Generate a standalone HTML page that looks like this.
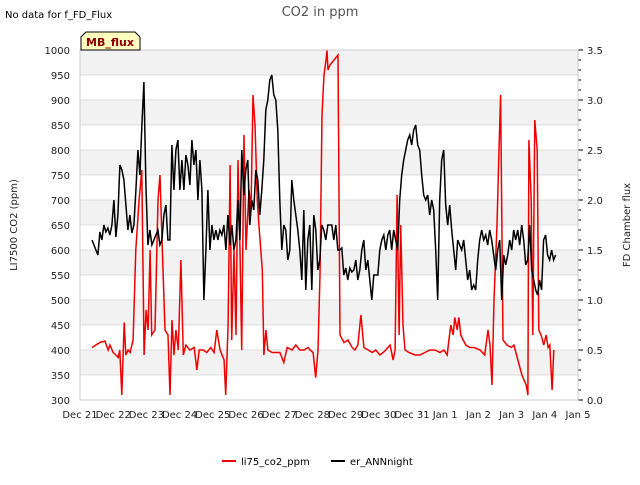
<!DOCTYPE html>
<html><head><meta charset="utf-8"><style>
body{margin:0;background:#fff;font-family:"Liberation Sans","DejaVu Sans",sans-serif}
svg text{font-family:"DejaVu Sans","Liberation Sans",sans-serif}
</style></head><body>
<svg id="c" width="640" height="480" xmlns="http://www.w3.org/2000/svg">
<text x="5" y="18" font-size="10" fill="#000">No data for f_FD_Flux</text>
<text x="320" y="16" font-size="13" fill="#555" text-anchor="middle">CO2 in ppm</text>
<g id="bands"></g>
<g id="axes"></g>
<path id="red" fill="none" stroke="#e00" stroke-width="1.5"/>
<path id="blk" fill="none" stroke="#000" stroke-width="1.5"/>
<g>
<path d="M81,50 L81,37 L86,32 L135,32 L140,37 L140,50 Z" fill="#ffffc0" stroke="#000" stroke-width="1"/>
<text x="110" y="46" font-size="11" font-weight="bold" fill="#8b0000" text-anchor="middle">MB_flux</text></g>
<text transform="translate(17,225) rotate(-90)" font-size="10" text-anchor="middle" fill="#222">LI7500 CO2 (ppm)</text>
<text transform="translate(630,225) rotate(-90)" font-size="10" text-anchor="middle" fill="#222">FD Chamber flux</text>
<g>
<line x1="222" y1="461" x2="236" y2="461" stroke="#e00" stroke-width="2"/>
<text x="241" y="465" font-size="10">li75_co2_ppm</text>
<line x1="331" y1="461" x2="345" y2="461" stroke="#000" stroke-width="2"/>
<text x="350" y="465" font-size="10">er_ANNnight</text>
</g>
</svg>
<script>
const xTickLabels=["Dec 21","Dec 22","Dec 23","Dec 24","Dec 25","Dec 26","Dec 27","Dec 28","Dec 29","Dec 30","Dec 31","Jan 1","Jan 2","Jan 3","Jan 4","Jan 5"];
const leftTicks=[300,350,400,450,500,550,600,650,700,750,800,850,900,950,1000];
const rightTicks=[0.0,0.5,1.0,1.5,2.0,2.5,3.0,3.5];
const redDays=[0.36,0.60,0.75,0.85,0.90,1.00,1.08,1.15,1.20,1.26,1.33,1.38,1.45,1.51,1.60,1.68,1.78,1.86,1.93,1.99,2.05,2.11,2.16,2.26,2.35,2.41,2.47,2.56,2.65,2.71,2.77,2.83,2.89,2.96,3.04,3.11,3.19,3.31,3.44,3.52,3.59,3.71,3.82,3.94,4.04,4.12,4.22,4.34,4.39,4.46,4.52,4.57,4.64,4.70,4.76,4.82,4.87,4.94,5.00,5.09,5.15,5.21,5.27,5.34,5.39,5.49,5.54,5.60,5.66,5.79,5.90,6.02,6.14,6.24,6.39,6.50,6.62,6.75,6.87,6.93,7.02,7.10,7.17,7.23,7.29,7.35,7.41,7.44,7.47,7.53,7.65,7.77,7.83,7.95,8.07,8.20,8.28,8.37,8.46,8.55,8.68,8.80,8.91,9.03,9.13,9.21,9.34,9.43,9.49,9.55,9.61,9.66,9.73,9.79,9.91,10.09,10.24,10.39,10.54,10.69,10.84,10.96,11.06,11.11,11.17,11.24,11.29,11.36,11.41,11.47,11.54,11.62,11.74,11.87,12.05,12.19,12.29,12.35,12.41,12.47,12.56,12.62,12.67,12.74,12.86,12.99,13.07,13.19,13.31,13.44,13.49,13.52,13.59,13.64,13.70,13.77,13.82,13.89,13.97,14.04,14.10,14.15,14.22,14.27];
const redPpm=[405,415,418,400,410,395,390,385,400,310,455,390,400,395,420,600,700,760,390,480,440,600,430,440,700,750,620,440,430,310,460,390,440,400,580,390,410,400,405,360,400,400,395,405,395,440,400,380,310,450,770,420,600,430,780,600,400,830,600,720,680,910,850,700,650,560,390,440,400,395,395,395,375,405,400,410,400,400,405,400,395,345,400,550,870,950,980,999,960,970,980,990,430,415,420,405,400,410,470,405,400,395,400,390,395,400,410,380,400,710,430,650,450,400,395,390,390,395,400,400,395,400,390,420,450,430,465,440,465,430,420,410,405,405,400,390,440,410,330,500,650,800,910,420,410,405,410,380,350,330,310,820,700,430,860,800,440,430,410,430,405,410,320,400];
const blkStartDay=0.36, blkStepDay=0.0602;
const blkFlux=[1.6,1.55,1.5,1.45,1.68,1.6,1.75,1.68,1.72,1.65,1.75,2.0,1.63,1.85,2.35,2.3,2.2,1.95,1.7,1.85,1.67,1.75,2.1,2.5,2.25,2.75,3.18,2.15,1.55,1.7,1.55,1.6,1.65,1.7,1.55,1.6,1.85,1.95,1.6,1.6,2.55,2.1,2.5,2.6,2.1,2.4,2.1,2.45,2.35,2.15,2.6,2.35,2.5,2.0,2.4,2.1,1.0,1.5,2.1,1.5,1.75,1.6,1.7,1.6,1.7,1.65,1.75,1.5,1.85,1.55,1.75,1.5,1.6,2.0,1.6,2.5,2.05,2.3,2.4,1.75,2.0,1.9,2.3,2.2,1.85,2.1,2.4,2.9,3.0,3.2,3.25,3.05,3.0,2.7,2.0,1.5,1.75,1.7,1.4,1.5,2.2,2.0,1.85,1.7,1.5,1.2,1.9,1.1,1.6,1.75,1.1,1.85,1.7,1.3,1.4,1.75,1.7,1.6,1.75,1.75,1.75,1.6,1.75,1.5,1.5,1.52,1.25,1.32,1.2,1.32,1.28,1.3,1.4,1.2,1.3,1.5,1.6,1.3,1.4,1.2,1.0,1.25,1.25,1.25,1.5,1.6,1.65,1.5,1.65,1.7,1.5,1.7,1.6,1.5,2.0,2.25,2.4,2.5,2.6,2.65,2.55,2.7,2.75,2.55,2.5,2.25,2.05,2.0,2.05,1.85,2.0,1.9,1.5,1.0,2.0,2.4,2.5,1.95,1.75,1.95,1.7,1.5,1.3,1.6,1.55,1.5,1.6,1.4,1.2,1.3,1.1,1.15,1.1,1.4,1.6,1.7,1.6,1.65,1.55,1.7,1.6,1.45,1.3,1.5,1.6,1.0,1.45,1.35,1.45,1.6,1.5,1.7,1.6,1.7,1.55,1.75,1.6,1.35,1.4,1.75,1.3,1.2,1.1,1.05,1.2,1.1,1.6,1.65,1.45,1.4,1.5,1.4,1.45];
const L=80,R=578,T=50,B=400;
const xs=d=>L+d*(R-L)/15;
const yl=v=>B-(v-300)*(B-T)/700;
const yr=v=>B-v*(B-T)/3.5;
const NS="http://www.w3.org/2000/svg";
function mk(tag,attrs,parent){const e=document.createElementNS(NS,tag);for(const k in attrs)e.setAttribute(k,attrs[k]);parent.appendChild(e);return e;}
const bands=document.getElementById('bands'),axes=document.getElementById('axes');
for(let v=300;v<1000;v+=50){
 const r=mk('rect',{x:L,y:yl(v+50),width:R-L,height:yl(v)-yl(v+50),fill:((v/50)%2===1)?'#f2f2f2':'#ffffff'},bands);
 
 
}
leftTicks.forEach(v=>{
 const g=mk('line',{x1:L,x2:R,y1:yl(v),y2:yl(v),stroke:'#ddd','stroke-width':1},axes);
 
 
 const t=mk('text',{x:L-10,y:yl(v)+4,'font-size':10,'text-anchor':'end',fill:'#222'},axes);
 t.textContent=v;
 
 
});
rightTicks.forEach(v=>{
 const t=mk('text',{x:R+9,y:yr(v)+4,'font-size':10,fill:'#222'},axes);
 t.textContent=v.toFixed(1);
 
 
 mk('line',{x1:R,x2:R+5,y1:yr(v),y2:yr(v),stroke:'#000'},axes);
});
for(let v=0;v<=3.5001;v+=0.1){mk('line',{x1:R,x2:R+3,y1:yr(v),y2:yr(v),stroke:'#000'},axes);}
xTickLabels.forEach((s,i)=>{
 const t=mk('text',{x:xs(i),y:B+18,'font-size':10,'text-anchor':'middle',fill:'#222'},axes);
 t.textContent=s;
 
 
});
mk('rect',{x:L,y:T,width:R-L,height:B-T,fill:'none',stroke:'#ccc'},axes);
document.getElementById('red').setAttribute('d',redDays.map((d,i)=>(i?'L':'M')+xs(d).toFixed(1)+','+yl(redPpm[i]).toFixed(1)).join(''));
document.getElementById('blk').setAttribute('d',blkFlux.map((v,i)=>(i?'L':'M')+xs(blkStartDay+i*blkStepDay).toFixed(1)+','+yr(v).toFixed(1)).join(''));
</script>
</body></html>
